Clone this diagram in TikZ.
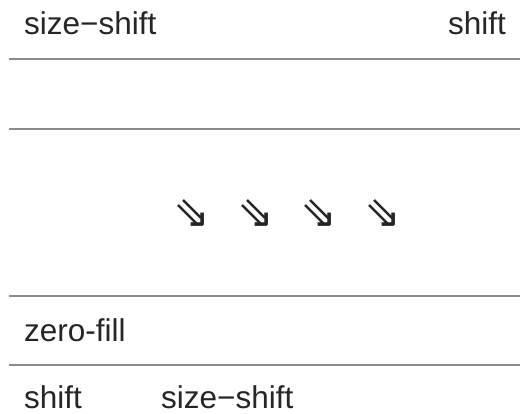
\documentclass[tikz,border=0pt]{standalone}
\usepackage{fontspec}
\setmainfont{Liberation Sans}
\newfontfamily\symfont{DejaVu Sans}
\begin{document}
\begin{tikzpicture}[x=1pt,y=-1pt,
  lbl/.style={inner sep=0pt,font=\fontsize{31.5}{36}\selectfont,text=black!85},
  rule/.style={draw=black!45,line width=1.5pt},
  sym/.style={inner sep=0pt,font=\symfont\fontsize{44}{50}\selectfont,text=black!85}]
\useasboundingbox (0,0) rectangle (520,414);
% header labels
\node[lbl,anchor=base west] (topl) at (24,35) {size−shift};
\node[lbl,anchor=base east] (topr) at (506,35) {shift};
% horizontal rules
\coordinate (r1a) at (9,59);  \coordinate (r1b) at (520,59);
\coordinate (r2a) at (9,129); \coordinate (r2b) at (520,129);
\coordinate (r3a) at (9,296); \coordinate (r3b) at (520,296);
\coordinate (r4a) at (9,365); \coordinate (r4b) at (520,365);
\draw[rule] (r1a) -- (r1b);
\draw[rule] (r2a) -- (r2b);
\draw[rule] (r3a) -- (r3b);
\draw[rule] (r4a) -- (r4b);
% diagonal double arrows
\node[sym] (a1) at (192,214) {⇘};
\node[sym] (a2) at (256,214) {⇘};
\node[sym] (a3) at (319,214) {⇘};
\node[sym] (a4) at (383,214) {⇘};
% lower labels
\node[lbl,anchor=base west] (fill) at (24,342) {zero-fill};
\node[lbl,anchor=base west] (botl) at (24,409) {shift};
\node[lbl,anchor=base west] (botr) at (161,409) {size−shift};
\end{tikzpicture}
\end{document}
